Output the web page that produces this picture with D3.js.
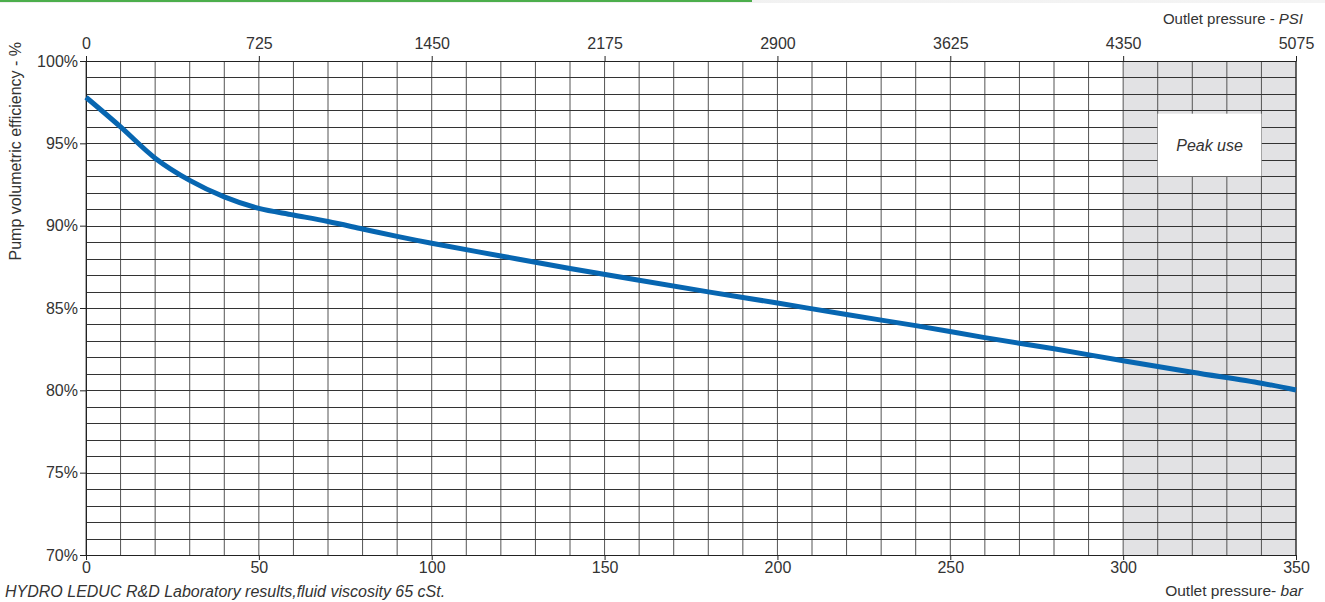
<!doctype html>
<html>
<body>
<style type="text/css">
    html,body{
        margin: 0;
        overflow: hidden;
        background: #fff;
    }
    text {
        font-family: "Liberation Sans", Arial, sans-serif;
        fill: #333;
    }
</style>
<script src="https://cdn.jsdelivr.net/npm/d3@7"></script>
<script type="text/javascript">
// readings taken off the reference curve
var pressureBar = [0, 10, 20, 30, 40, 50, 60, 70, 80, 90, 100, 120, 140, 160, 180, 200, 220, 240, 260, 280, 300, 320, 340, 350];
var efficiency  = [97.8, 96.0, 94.1, 92.75, 91.75, 91.05, 90.65, 90.25, 89.8, 89.35, 88.93, 88.16, 87.4, 86.68, 85.98, 85.3, 84.6, 83.93, 83.2, 82.52, 81.8, 81.1, 80.43, 80.02];

var barTicks = [0, 50, 100, 150, 200, 250, 300, 350];
var psiTicks = [0, 725, 1450, 2175, 2900, 3625, 4350, 5075];
var pctTicks = [70, 75, 80, 85, 90, 95, 100];

var peakZone = [300, 350];          // shaded area, bar
var peakBoxX = [310, 340];          // white label box, bar
var peakBoxY = [96.8, 93];          // white label box, %

(function(){
    var w = 1325, h = 602,
        left = 86, right = 1296, top = 61, bottom = 555;

    var svg = d3.select("body").append("svg")
        .attr("width", w)
        .attr("height", h);

    // page header strip
    var grad = svg.append("defs").append("linearGradient").attr("id", "hdr");
    grad.append("stop").attr("offset", "0%").attr("stop-color", "#eee");
    grad.append("stop").attr("offset", "100%").attr("stop-color", "#f4f4f4");
    svg.append("rect").attr("x", 0).attr("y", 0).attr("width", w).attr("height", 3).attr("fill", "url(#hdr)");
    svg.append("rect").attr("x", 0).attr("y", 0).attr("width", 752).attr("height", 2).attr("fill", "#4cae4c");

    var x = d3.scaleLinear().domain([0, 350]).range([left, right]);
    var xPsi = d3.scaleLinear().domain([0, 5075]).range([left, right]);
    var y = d3.scaleLinear().domain([70, 100]).range([bottom, top]);

    // peak use zone
    svg.append("rect")
        .attr("x", x(peakZone[0])).attr("y", y(100))
        .attr("width", x(peakZone[1]) - x(peakZone[0]))
        .attr("height", y(70) - y(100))
        .attr("fill", "#e2e2e4");

    // grid
    var grid = svg.append("g");
    grid.selectAll("line.v").data(d3.range(0, 351, 10)).enter().append("line")
        .attr("x1", function(d){return x(d)}).attr("x2", function(d){return x(d)})
        .attr("y1", y(100)).attr("y2", y(70))
        .attr("stroke", "#555").attr("stroke-width", 1);
    grid.selectAll("line.h").data(d3.range(70, 100.5, 1)).enter().append("line")
        .attr("x1", x(0)).attr("x2", x(350))
        .attr("y1", function(d){return Math.round(y(d)) + 0.5}).attr("y2", function(d){return Math.round(y(d)) + 0.5})
        .attr("stroke", "#333").attr("stroke-width", 1);

    // peak use box
    svg.append("rect")
        .attr("x", x(peakBoxX[0])).attr("y", y(peakBoxY[0]))
        .attr("width", x(peakBoxX[1]) - x(peakBoxX[0]))
        .attr("height", y(peakBoxY[1]) - y(peakBoxY[0]))
        .attr("fill", "#fff");
    svg.append("text")
        .attr("x", (x(peakBoxX[0]) + x(peakBoxX[1])) / 2)
        .attr("y", (y(peakBoxY[0]) + y(peakBoxY[1])) / 2 + 6)
        .attr("text-anchor", "middle")
        .style("font-size", "16px").style("font-style", "italic")
        .text("Peak use");

    // axes
    var axisStyle = function(g){
        g.attr("font-size", null).attr("font-family", null);
        g.select(".domain").attr("stroke", "#222");
        g.selectAll(".tick line").attr("stroke", "#222");
        g.selectAll(".tick text").style("font-size", "16px").attr("fill", "#333");
    };
    svg.append("g").attr("transform", "translate(0," + bottom + ")")
        .call(d3.axisBottom(x).tickValues(barTicks).tickSize(5).tickSizeOuter(0).tickPadding(2))
        .call(axisStyle);
    svg.append("g").attr("transform", "translate(0," + top + ")")
        .call(d3.axisTop(xPsi).tickValues(psiTicks).tickSize(5).tickSizeOuter(0).tickPadding(7)
            .tickFormat(d3.format("d")))
        .call(axisStyle);
    svg.append("g").attr("transform", "translate(" + left + ",0)")
        .call(d3.axisLeft(y).tickValues(pctTicks).tickSize(6).tickSizeOuter(0).tickPadding(2)
            .tickFormat(function(d){return d + "%"}))
        .call(axisStyle);
    svg.append("line").attr("x1", x(350)).attr("x2", x(350)).attr("y1", y(100)).attr("y2", y(70))
        .attr("stroke", "#222");

    // curve
    svg.append("path")
        .datum(pressureBar.map(function(p, i){return [p, efficiency[i]]}))
        .attr("d", d3.line().x(function(d){return x(d[0])}).y(function(d){return y(d[1])}).curve(d3.curveCatmullRom.alpha(0.5)))
        .attr("fill", "none")
        .attr("stroke", "#0766b1")
        .attr("stroke-width", 5);

    // titles
    var psiTitle = svg.append("text").attr("x", 1303).attr("y", 24).attr("text-anchor", "end").style("font-size", "15px");
    psiTitle.append("tspan").text("Outlet pressure - ");
    psiTitle.append("tspan").style("font-style", "italic").text("PSI");

    var barTitle = svg.append("text").attr("x", 1303).attr("y", 596).attr("text-anchor", "end").style("font-size", "15.5px");
    barTitle.append("tspan").text("Outlet pressure- ");
    barTitle.append("tspan").style("font-style", "italic").text("bar");

    svg.append("text").attr("x", 5).attr("y", 597)
        .style("font-size", "16px").style("font-style", "italic")
        .text("HYDRO LEDUC R&D Laboratory results,fluid viscosity 65 cSt.");

    svg.append("text")
        .attr("transform", "translate(21,42) rotate(-90)")
        .attr("text-anchor", "end")
        .style("font-size", "16px")
        .text("Pump volumetric efficiency - %");
})();
</script>
</body>
</html>
